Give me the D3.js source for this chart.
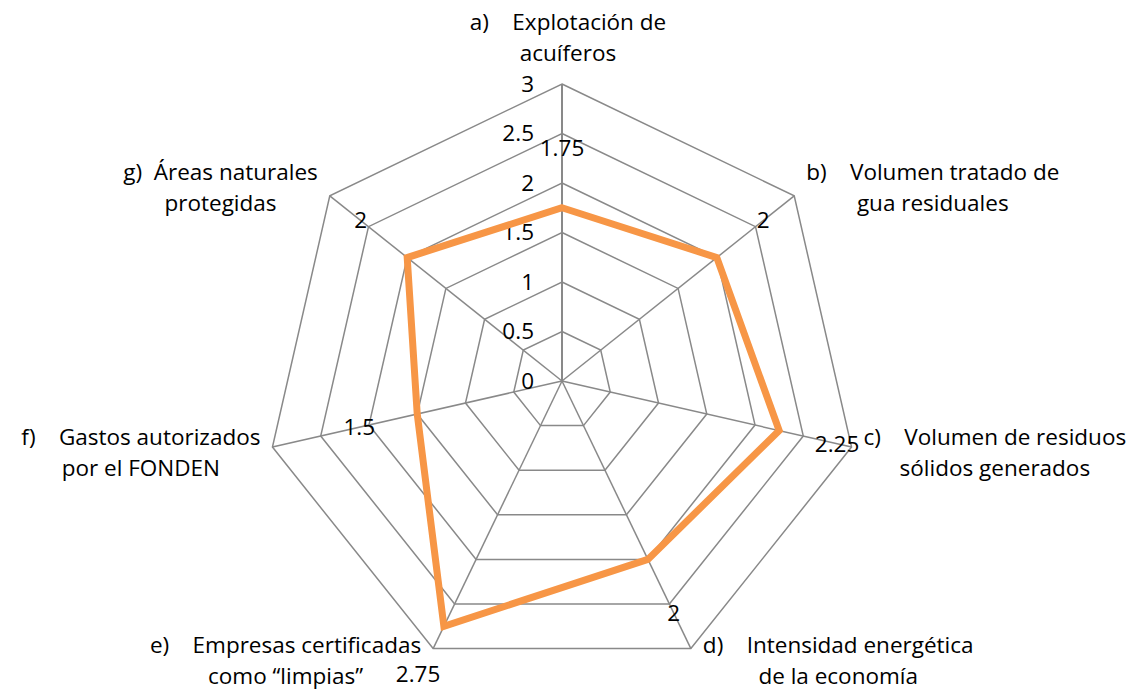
<!DOCTYPE html>
<html>
<head>
<meta charset="utf-8">
<script src="https://cdn.jsdelivr.net/npm/d3@7"></script>
<style>
  body { margin: 0; background: #fff; }
  text { font-family: "Open Sans", Lato, sans-serif; fill: #000; }
</style>
</head>
<body>
<svg id="chart" width="1147" height="691"></svg>
<script>
// categories (numbered like the source list), values and ticks
var letters = ["a)", "b)", "c)", "d)", "e)", "f)", "g)"];
var line1 = ["Explotación de", "Volumen tratado de", "Volumen de residuos", "Intensidad energética", "Empresas certificadas", "Gastos autorizados", "Áreas naturales"];
var line2 = ["acuíferos", "gua residuales", "sólidos generados", "de la economía", "como “limpias”", "por el FONDEN", "protegidas"];
var values = [1.75, 2, 2.25, 2, 2.75, 1.5, 2];
var ticks = [0, 0.5, 1, 1.5, 2, 2.5, 3];

var svg = d3.select("#chart"),
	cx = 562, cy = 381,
	radius = 297,
	n = values.length,
	fontSize = 22.5;

var r = d3.scaleLinear().domain([0, 3]).range([0, radius]);
var angle = d3.scaleLinear().domain([0, n]).range([0, 2 * Math.PI]);

function pt(i, v) {
	var a = angle(i);
	return [cx + r(v) * Math.sin(a), cy - r(v) * Math.cos(a)];
}

var g = svg.append("g");

// grid rings
ticks.slice(1).forEach(function(t) {
	g.append("path")
		.attr("d", d3.line()(d3.range(n).map(function(i) { return pt(i, t); })) + "Z")
		.attr("fill", "none")
		.attr("stroke", "#898989")
		.attr("stroke-width", 1.5);
});

// spokes
d3.range(n).forEach(function(i) {
	var p = pt(i, 3);
	g.append("line")
		.attr("x1", cx).attr("y1", cy)
		.attr("x2", p[0]).attr("y2", p[1])
		.attr("stroke", "#898989")
		.attr("stroke-width", i == 0 ? 2 : 1.5);
});

// tick labels along the top axis
g.selectAll(".tick")
	.data(ticks)
	.enter().append("text")
	.attr("class", "tick")
	.attr("x", cx - 28)
	.attr("y", function(d) { return cy - r(d); })
	.attr("dy", "0.35em")
	.attr("text-anchor", "end")
	.style("font-size", fontSize + "px")
	.text(function(d) { return d; });

// series
g.append("path")
	.attr("d", d3.line()(values.map(function(v, i) { return pt(i, v); })) + "Z")
	.attr("fill", "none")
	.attr("stroke", "#F79646")
	.attr("stroke-width", 7)
	.attr("stroke-linejoin", "miter");

// data labels, pushed out past the point (kept inside the bottom edge)
g.selectAll(".val")
	.data(values)
	.enter().append("text")
	.attr("class", "val")
	.attr("x", function(d, i) { return pt(i, d + 0.6)[0]; })
	.attr("y", function(d, i) { return Math.min(pt(i, d + 0.6)[1], 674); })
	.attr("dy", "0.35em")
	.attr("text-anchor", "middle")
	.style("font-size", fontSize + "px")
	.text(function(d) { return d; });

// category labels, two centred lines beside each outer vertex
var side = [0, 1, 1, 1, -1, -1, -1];
var lift = [0, -24, -10, -3, -3, -10, -24];
d3.range(n).forEach(function(i) {
	var p = pt(i, 3);
	var lab = g.append("text")
		.attr("xml:space", "preserve")
		.style("font-size", fontSize + "px")
		.style("white-space", "pre")
		.attr("text-anchor", "middle");
	var t1 = lab.append("tspan").text(letters[i] + (i == 6 ? "  " : "    ") + line1[i]);
	var t2 = lab.append("tspan").text(line2[i]);
	var w = Math.max(t1.node().getComputedTextLength(), t2.node().getComputedTextLength());
	var x, y;
	if (side[i] == 0) {
		x = p[0] + 6;
		y = p[1] - 62;
	} else {
		x = p[0] + side[i] * (12 + w / 2);
		y = p[1] + lift[i];
	}
	t1.attr("x", x).attr("y", y).attr("dy", "0.35em");
	t2.attr("x", x).attr("y", y + 31).attr("dy", "0.35em");
});
</script>
</body>
</html>
